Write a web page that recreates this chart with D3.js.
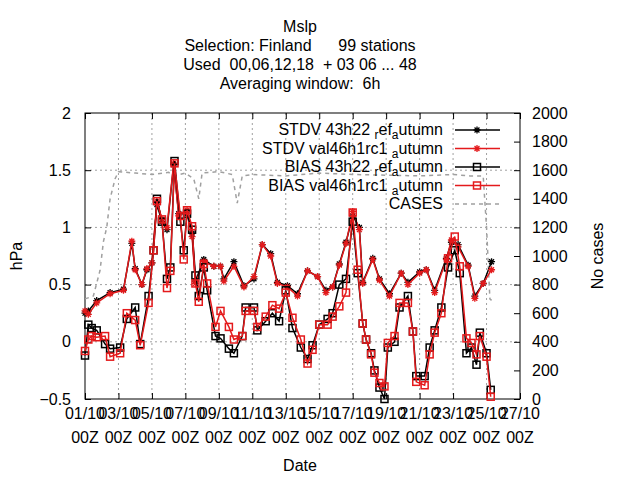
<!DOCTYPE html><html><head><meta charset="utf-8"><script src="https://cdn.jsdelivr.net/npm/d3@7"></script>
<style>body{margin:0;background:#fff}text{font-family:"Liberation Sans",Arial,sans-serif;font-size:16px}</style></head><body><svg id="c" width="640" height="480"></svg><script>
const stdvDays=[0,0.2,0.7,1.5,2.3,2.8,3.0,3.4,3.7,4.0,4.3,4.6,4.9,5.3,5.6,6.1,6.4,6.6,7.1,7.7,8.1,8.3,8.9,9.5,10.1,10.6,11.1,11.5,12.1,12.7,13.3,13.9,14.4,14.8,15.2,15.6,16.0,16.4,16.6,17.2,17.6,18.2,18.9,19.3,20.0,20.4,20.9,21.6,21.9,22.3,22.9,23.3,23.8,24.3];
const stdvRef=[0.25,0.27,0.36,0.43,0.46,0.86,0.64,0.5,0.63,0.69,1.2,1.05,0.98,1.55,1.12,1.12,0.95,0.53,0.72,0.66,0.66,0.55,0.7,0.49,0.55,0.85,0.77,0.52,0.49,0.42,0.62,0.57,0.45,0.48,0.68,0.87,1.1,1.0,0.52,0.73,0.55,0.42,0.6,0.52,0.61,0.63,0.45,0.73,0.87,0.85,0.67,0.4,0.51,0.7];
const stdvVal=[0.27,0.24,0.34,0.42,0.45,0.88,0.63,0.5,0.64,0.69,1.23,1.07,1.0,1.56,1.1,1.15,0.92,0.51,0.7,0.66,0.66,0.53,0.66,0.48,0.57,0.85,0.75,0.51,0.48,0.4,0.62,0.57,0.43,0.48,0.67,0.86,1.14,0.98,0.51,0.72,0.54,0.4,0.6,0.5,0.6,0.63,0.43,0.72,0.89,0.83,0.66,0.38,0.51,0.63];
const biasDays=[0,0.2,0.4,0.7,1.2,1.5,2.1,2.5,3.0,3.3,3.8,4.1,4.3,4.6,4.9,5.1,5.35,5.7,5.9,6.1,6.4,6.6,6.8,7.1,7.3,7.8,8.1,8.6,8.9,9.4,9.6,10.1,10.3,10.8,11.2,11.6,12.0,12.4,12.9,13.3,13.6,14.0,14.5,14.8,15.2,15.6,16.0,16.3,16.6,16.8,17.1,17.3,17.6,17.9,18.1,18.5,18.8,19.3,19.6,19.8,20.3,20.6,20.9,21.3,21.7,22.1,22.4,22.8,23.1,23.4,23.6,24.0,24.25];
const biasRef=[-0.12,0.15,0.12,0.1,-0.02,-0.06,-0.05,0.2,0.3,-0.02,0.4,0.8,1.25,1.05,0.55,0.65,1.58,1.05,0.8,1.12,0.98,0.58,0.4,0.65,0.45,0.05,0.03,-0.06,-0.1,0.05,0.3,0.3,0.1,0.18,0.25,0.18,0.45,0.12,-0.05,-0.15,-0.03,0.15,0.2,0.25,0.5,0.55,1.05,0.6,0.16,0.02,-0.1,-0.25,-0.4,-0.5,-0.05,0.0,0.3,0.4,0.09,-0.3,-0.3,-0.05,0.1,0.3,0.65,0.8,0.6,-0.1,-0.05,-0.2,0.08,-0.1,-0.42];
const biasVal=[-0.08,0.02,0.05,0.04,0.05,-0.13,-0.1,0.25,0.19,-0.03,0.34,0.8,1.23,1.07,0.47,0.62,1.56,1.1,0.72,1.15,1.01,0.51,0.35,0.68,0.51,0.13,0.27,0.13,0.02,0.05,0.27,0.27,0.13,0.22,0.32,0.29,0.43,0.21,0.02,-0.19,-0.07,0.15,0.15,0.22,0.31,0.43,1.13,0.63,0.16,0.02,-0.11,-0.27,-0.36,-0.39,-0.01,0.05,0.34,0.34,0.09,-0.35,-0.38,-0.11,0.08,0.25,0.73,0.92,0.66,0.03,-0.01,-0.11,0.05,-0.13,-0.48];
const caseDays=[0,0.5,0.9,1.1,1.3,1.5,1.8,2.0,3,4,5,5.3,6,6.5,6.8,7.0,8,8.8,9.1,9.4,10,12,14,16,18,20,22,23,23.8,24.0,24.2,24.3];
const cases=[700,720,900,1100,1200,1400,1540,1590,1580,1570,1585,1560,1580,1540,1400,1580,1590,1570,1370,1560,1570,1560,1580,1570,1565,1560,1570,1560,1560,1200,700,690];
const xTicks=["01/10","03/10","05/10","07/10","09/10","11/10","13/10","15/10","17/10","19/10","21/10","23/10","25/10","27/10"];
const svg=d3.select("#c");
const L=85,R=520,T=113,B=399;
const x=d3.scaleLinear().domain([0,26]).range([L,R]);
const y=d3.scaleLinear().domain([-0.5,2]).range([B,T]);
const y2=d3.scaleLinear().domain([0,2000]).range([B,T]);
const g=svg.append("g");
y.ticks(5).forEach(v=>{if(v>-0.5&&v<2)g.append("line").attr("x1",L).attr("x2",R).attr("y1",y(v)).attr("y2",y(v)).attr("stroke","#a0a0a0").attr("stroke-dasharray","2,3");});
xTicks.forEach((t,i)=>{const d=i*2;if(d>0&&d<26)g.append("line").attr("x1",x(d)).attr("x2",x(d)).attr("y1",T).attr("y2",B).attr("stroke","#a0a0a0").attr("stroke-dasharray","2,3");});
g.append("rect").attr("x",L).attr("y",T).attr("width",R-L).attr("height",B-T).attr("fill","none").attr("stroke","#000");
const ax=svg.append("g").attr("transform",`translate(0,${B})`).call(d3.axisBottom(x).tickValues(d3.range(0,27,2)).tickSize(-6).tickFormat(""));
ax.select(".domain").remove();
const ax2=svg.append("g").attr("transform",`translate(0,${T})`).call(d3.axisTop(x).tickValues(d3.range(0,27,2)).tickSize(-6).tickFormat(""));ax2.select(".domain").remove();
const ay=svg.append("g").attr("transform",`translate(${L},0)`).call(d3.axisLeft(y).tickValues([-0.5,0,0.5,1,1.5,2]).tickSize(-6).tickPadding(14).tickFormat(d3.format("")));
ay.select(".domain").remove();ay.selectAll("text").style("font-size","16px");
const ay2=svg.append("g").attr("transform",`translate(${R},0)`).call(d3.axisRight(y2).tickValues(d3.range(0,2001,200)).tickSize(-6).tickPadding(12).tickFormat(d3.format("d")));
ay2.select(".domain").remove();ay2.selectAll("text").style("font-size","16px");
xTicks.forEach((t,i)=>{svg.append("text").attr("x",x(i*2)).attr("y",419).attr("text-anchor","middle").text(t);svg.append("text").attr("x",x(i*2)).attr("y",443).attr("text-anchor","middle").text("00Z");});
["Mslp","Selection: Finland      99 stations","Used  00,06,12,18  + 03 06 ... 48","Averaging window:  6h"].forEach((t,i)=>svg.append("text").attr("x",300).attr("y",32+i*19).attr("text-anchor","middle").attr("xml:space","preserve").text(t));
svg.append("text").attr("x",300).attr("y",471).attr("text-anchor","middle").text("Date");
svg.append("text").attr("transform","translate(22,256) rotate(-90)").attr("text-anchor","middle").text("hPa");
svg.append("text").attr("transform","translate(603,256) rotate(-90)").attr("text-anchor","middle").text("No cases");
const line=(dx,dy,sc)=>d3.line().x((d,i)=>x(dx[i])).y(d=>sc(d));
const P=svg.append("g");
P.append("path").attr("d",line(caseDays,cases,y2)(cases)).attr("fill","none").attr("stroke","#a0a0a0").attr("stroke-width",1.5).attr("stroke-dasharray","4,4");
function star(gr,cx,cy,c){const s=3.5;gr.append("path").attr("d",`M${cx-s},${cy}H${cx+s}M${cx},${cy-s}V${cy+s}M${cx-s*0.7},${cy-s*0.7}L${cx+s*0.7},${cy+s*0.7}M${cx-s*0.7},${cy+s*0.7}L${cx+s*0.7},${cy-s*0.7}`).attr("stroke",c).attr("stroke-width",1.3);}
function box(gr,cx,cy,c){gr.append("rect").attr("x",cx-3.5).attr("y",cy-3.5).attr("width",7).attr("height",7).attr("fill","none").attr("stroke",c).attr("stroke-width",1.5);}
const ser=[[stdvDays,stdvRef,"#000",star],[stdvDays,stdvVal,"#e41a1c",star],[biasDays,biasRef,"#000",box],[biasDays,biasVal,"#e41a1c",box]];
ser.forEach(([dx,v,c,m])=>{P.append("path").attr("d",line(dx,v,y)(v)).attr("fill","none").attr("stroke",c).attr("stroke-width",1.5);v.forEach((d,i)=>m(P,x(dx[i]),y(d),c));});
const leg=[["STDV 43h22","ref","autumn","#000",star,false],["STDV val46h1rc1","","autumn","#e41a1c",star,false],["BIAS 43h22","ref","autumn","#000",box,false],["BIAS val46h1rc1","","autumn","#e41a1c",box,false],["CASES","","","#a0a0a0",null,true]];
leg.forEach(([a,b,cc,c,m,dash],i)=>{const yy=130+i*18.5;const t=svg.append("text").attr("x",443).attr("y",yy+5).attr("text-anchor","end");
if(cc){t.append("tspan").text(a+" ");if(b){t.append("tspan").attr("dy",4).style("font-size","12px").text("r");t.append("tspan").attr("dy",-4).text("ef");}t.append("tspan").attr("dy",4).style("font-size","12px").text("a");t.append("tspan").attr("dy",-4).text("utumn");}else t.text(a);
const l=svg.append("line").attr("x1",455).attr("x2",500).attr("y1",yy).attr("y2",yy).attr("stroke",c).attr("stroke-width",1.5);if(dash)l.attr("stroke-dasharray","4,4");if(m)m(svg,477,yy,c);});
</script></body></html>
